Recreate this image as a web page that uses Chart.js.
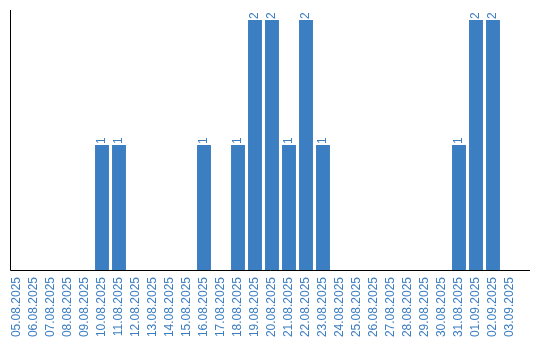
<!DOCTYPE html>
<html>
<head>
<meta charset="utf-8">
<script src="https://cdn.jsdelivr.net/npm/chart.js@4.4.1/dist/chart.umd.min.js"></script>
<style>
  html, body { margin: 0; padding: 0; background: #fff; }
</style>
</head>
<body>
<canvas id="myChart" width="540" height="340"></canvas>
<script>
var days = ["05.08.2025", "06.08.2025", "07.08.2025", "08.08.2025", "09.08.2025",
            "10.08.2025", "11.08.2025", "12.08.2025", "13.08.2025", "14.08.2025",
            "15.08.2025", "16.08.2025", "17.08.2025", "18.08.2025", "19.08.2025",
            "20.08.2025", "21.08.2025", "22.08.2025", "23.08.2025", "24.08.2025",
            "25.08.2025", "26.08.2025", "27.08.2025", "28.08.2025", "29.08.2025",
            "30.08.2025", "31.08.2025", "01.09.2025", "02.09.2025", "03.09.2025"];
var counts = [0, 0, 0, 0, 0,
              1, 1, 0, 0, 0,
              0, 1, 0, 1, 2,
              2, 1, 2, 1, 0,
              0, 0, 0, 0, 0,
              0, 1, 2, 2, 0];

var blue = "#3c7ec2";
var labelFont = "12px 'Liberation Sans'";

// axis lines: y at the left, x running a bit past the last bar
var axisLines = {
  id: 'axisLines',
  afterDatasetsDraw: function(chart) {
    var ctx = chart.ctx, a = chart.chartArea;
    ctx.save();
    ctx.strokeStyle = "#000";
    ctx.lineWidth = 1;
    ctx.beginPath();
    ctx.moveTo(a.left + 2, a.top);
    ctx.lineTo(a.left + 2, a.bottom + 0.5);
    ctx.lineTo(a.right + 11.5, a.bottom + 0.5);
    ctx.stroke();
    ctx.restore();
  }
};

// rotated value labels on top of bars
var barValues = {
  id: 'barValues',
  afterDatasetsDraw: function(chart) {
    var ctx = chart.ctx;
    var meta = chart.getDatasetMeta(0);
    ctx.save();
    ctx.fillStyle = blue;
    ctx.font = labelFont;
    ctx.textAlign = "left";
    ctx.textBaseline = "middle";
    meta.data.forEach(function(bar, i) {
      var v = counts[i];
      if (!v) return;
      ctx.save();
      ctx.translate(bar.x, bar.y - 1);
      ctx.rotate(-Math.PI / 2);
      ctx.fillText(String(v), 0, 0);
      ctx.restore();
    });
    ctx.restore();
  }
};

var ctx = document.getElementById('myChart').getContext('2d');
var myChart = new Chart(ctx, {
  type: 'bar',
  data: {
    labels: days,
    datasets: [{
      data: counts,
      backgroundColor: blue,
      borderWidth: 0,
      barPercentage: 0.82,
      categoryPercentage: 1
    }]
  },
  options: {
    responsive: false,
    animation: false,
    layout: { padding: { left: 8.5, right: 21.5, top: 10, bottom: 0 } },
    plugins: { legend: { display: false }, tooltip: { enabled: false } },
    scales: {
      x: {
        grid: { display: false, drawTicks: false },
        border: { display: false },
        ticks: {
          autoSkip: false,
          minRotation: 90,
          maxRotation: 90,
          padding: 7,
          color: blue,
          font: { family: "Liberation Sans", size: 12 }
        },
        afterFit: function(scale) { scale.height = 70; }
      },
      y: {
        display: false,
        min: 0,
        max: Math.max.apply(null, counts) * 1.04
      }
    }
  },
  plugins: [axisLines, barValues]
});
</script>
</body>
</html>
